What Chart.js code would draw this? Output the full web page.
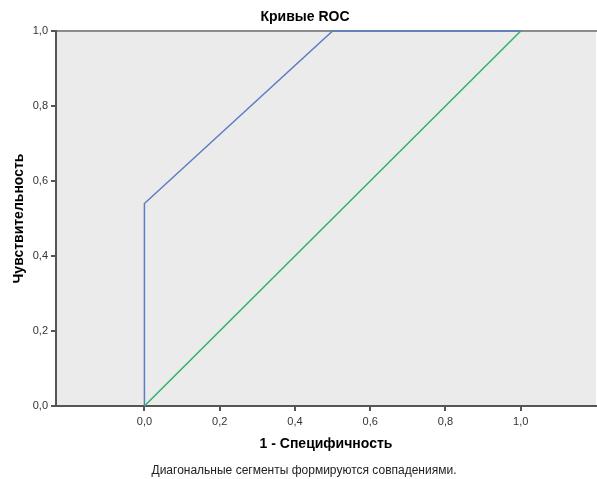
<!DOCTYPE html>
<html>
<head>
<meta charset="utf-8">
<script src="https://cdn.jsdelivr.net/npm/chart.js@4.4.1/dist/chart.umd.min.js"></script>
<style>
  html, body { margin: 0; padding: 0; background: #ffffff; }
  #wrap { width: 597px; height: 479px; }
</style>
</head>
<body>
<div id="wrap"><canvas id="rocChart" width="597" height="479"></canvas></div>
<script>
// ROC curve (blue) and reference diagonal (green)
var rocX = [0, 0, 0.5, 1];
var rocY = [0, 0.54, 1, 1];
var diagX = [0, 1];
var diagY = [0, 1];
var tickValues = [0, 0.2, 0.4, 0.6, 0.8, 1.0];

function toPoints(xs, ys) {
  return xs.map(function (x, i) { return { x: x, y: ys[i] }; });
}

function commaLabel(v) {
  return Number(v).toFixed(1).replace(".", ",");
}

var fontName = "'Liberation Sans', Arial, sans-serif";

var plotBg = {
  id: "plotBg",
  beforeDraw: function (chart) {
    var a = chart.chartArea, ctx = chart.ctx;
    ctx.save();
    ctx.fillStyle = "#ebebeb";
    ctx.fillRect(a.left, a.top, a.right - a.left, a.bottom - a.top);
    ctx.strokeStyle = "#8c8c8c";
    ctx.lineWidth = 2;
    ctx.beginPath();
    ctx.moveTo(a.left, a.top);
    ctx.lineTo(a.right + 1, a.top);
    ctx.stroke();
    ctx.restore();
  },
  afterDraw: function (chart) {
    var ctx = chart.ctx;
    ctx.save();
    ctx.fillStyle = "#000000";
    ctx.textAlign = "center";
    ctx.textBaseline = "middle";
    ctx.font = "bold 14px " + fontName;
    ctx.fillText("Кривые ROC", 305, 17);
    ctx.fillStyle = "#222222";
    ctx.font = "12px " + fontName;
    ctx.fillText("Диагональные сегменты формируются совпадениями.", 304, 471);
    ctx.restore();
  }
};

new Chart("rocChart", {
  type: "scatter",
  data: {
    datasets: [{
      data: toPoints(diagX, diagY),
      showLine: true,
      borderColor: "#2bb36b",
      borderWidth: 1.5,
      pointRadius: 0,
      clip: 3
    }, {
      data: toPoints(rocX, rocY),
      showLine: true,
      borderColor: "#5b7ec6",
      borderWidth: 1.5,
      pointRadius: 0,
      clip: 3
    }]
  },
  options: {
    responsive: false,
    animation: false,
    layout: { padding: { top: 31, bottom: 23, left: 0, right: 1 } },
    plugins: {
      legend: { display: false },
      tooltip: { enabled: false }
    },
    scales: {
      x: {
        type: "linear",
        min: -0.235,
        max: 1.2,
        afterFit: function (s) { s.height = 50; },
        afterBuildTicks: function (s) {
          s.ticks = tickValues.map(function (v) { return { value: v }; });
        },
        ticks: {
          color: "#333333",
          font: { family: fontName, size: 11 },
          padding: 4,
          maxRotation: 0,
          callback: function (v) { return commaLabel(v); }
        },
        grid: {
          drawOnChartArea: false,
          drawTicks: true,
          tickLength: 5,
          color: "#555555",
          lineWidth: 2
        },
        border: { display: true, color: "#555555", width: 2 },
        title: {
          display: true,
          text: "1 - Специфичность",
          color: "#000000",
          font: { family: fontName, size: 14, weight: "bold" },
          padding: { top: 0, bottom: 3.5 }
        }
      },
      y: {
        type: "linear",
        min: 0,
        max: 1,
        afterFit: function (s) { s.width = 56; },
        afterBuildTicks: function (s) {
          s.ticks = tickValues.map(function (v) { return { value: v }; });
        },
        ticks: {
          color: "#333333",
          font: { family: fontName, size: 11 },
          padding: 3,
          callback: function (v) { return commaLabel(v); }
        },
        grid: {
          drawOnChartArea: false,
          drawTicks: true,
          tickLength: 5,
          color: "#555555",
          lineWidth: 2
        },
        border: { display: true, color: "#555555", width: 2 },
        title: {
          display: true,
          text: "Чувствительность",
          color: "#000000",
          font: { family: fontName, size: 14, weight: "bold" },
          padding: { top: 11, bottom: 0 }
        }
      }
    }
  },
  plugins: [plotBg]
});
</script>
</body>
</html>
